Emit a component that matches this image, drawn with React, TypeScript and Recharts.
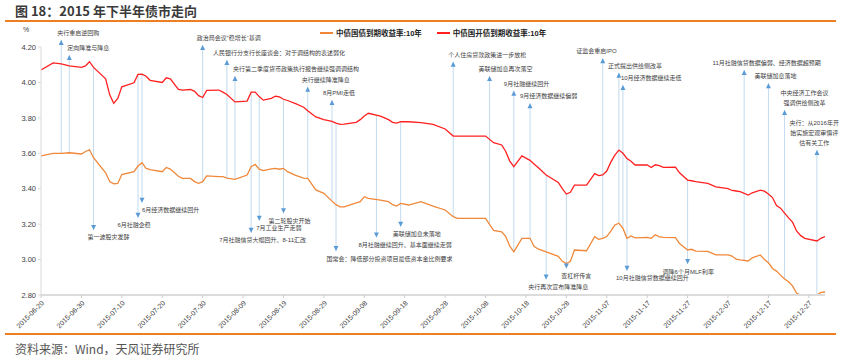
import { Line, LineChart, ReferenceDot, ReferenceLine, XAxis, YAxis } from 'recharts';

const dates = [
  '2015-06-20', '2015-06-23', '2015-06-25', '2015-06-27', '2015-06-30', '2015-07-01', '2015-07-02', '2015-07-03',
  '2015-07-06', '2015-07-07', '2015-07-08', '2015-07-09', '2015-07-10', '2015-07-13', '2015-07-14', '2015-07-15',
  '2015-07-16', '2015-07-17', '2015-07-20', '2015-07-21', '2015-07-22', '2015-07-24', '2015-07-25', '2015-07-27',
  '2015-07-28', '2015-07-29', '2015-07-30', '2015-07-31', '2015-08-03', '2015-08-04', '2015-08-05', '2015-08-07',
  '2015-08-10', '2015-08-11', '2015-08-12', '2015-08-13', '2015-08-14', '2015-08-16', '2015-08-17', '2015-08-18',
  '2015-08-19', '2015-08-20', '2015-08-22', '2015-08-24', '2015-08-25', '2015-08-27', '2015-08-29', '2015-08-31',
  '2015-09-01', '2015-09-02', '2015-09-03', '2015-09-06', '2015-09-07', '2015-09-08', '2015-09-09', '2015-09-12',
  '2015-09-14', '2015-09-15', '2015-09-16', '2015-09-17', '2015-09-19', '2015-09-22', '2015-09-25', '2015-09-28',
  '2015-09-30', '2015-10-01', '2015-10-08', '2015-10-10', '2015-10-12', '2015-10-13', '2015-10-14', '2015-10-15',
  '2015-10-17', '2015-10-19', '2015-10-20', '2015-10-21', '2015-10-23', '2015-10-26', '2015-10-27', '2015-10-28',
  '2015-10-29', '2015-10-30', '2015-11-02', '2015-11-04', '2015-11-05', '2015-11-06', '2015-11-07', '2015-11-08',
  '2015-11-09', '2015-11-10', '2015-11-11', '2015-11-12', '2015-11-13', '2015-11-14', '2015-11-17', '2015-11-18',
  '2015-11-19', '2015-11-20', '2015-11-21', '2015-11-24', '2015-11-25', '2015-11-27', '2015-11-28', '2015-11-29',
  '2015-12-02', '2015-12-04', '2015-12-07', '2015-12-08', '2015-12-09', '2015-12-10', '2015-12-12', '2015-12-13',
  '2015-12-15', '2015-12-16', '2015-12-17', '2015-12-18', '2015-12-19', '2015-12-20', '2015-12-21', '2015-12-22',
  '2015-12-23', '2015-12-24', '2015-12-25', '2015-12-26', '2015-12-29', '2015-12-30', '2015-12-31',
];

// 中债国开债到期收益率:10年
const cdb10y = [
  4.07, 4.11, 4.105, 4.093, 4.085, 4.093, 4.117, 4.085,
  4.02, 3.93, 3.882, 3.91, 3.975, 3.998, 4.045, 4.047,
  4.035, 4.012, 4.0, 4.026, 4.02, 3.96, 3.957, 3.96,
  3.95, 3.925, 3.915, 3.955, 3.957, 3.945, 3.932, 3.89,
  3.895, 3.945, 3.945, 3.92, 3.9, 3.91, 3.922, 3.918,
  3.905, 3.898, 3.88, 3.86, 3.84, 3.805, 3.79, 3.78,
  3.77, 3.763, 3.765, 3.775, 3.79, 3.81, 3.826, 3.81,
  3.79, 3.775, 3.77, 3.778, 3.778, 3.773, 3.763, 3.737,
  3.697, 3.697, 3.697, 3.66, 3.647, 3.61, 3.556, 3.524,
  3.585, 3.56, 3.54, 3.52, 3.477, 3.435, 3.4, 3.37,
  3.38, 3.42, 3.42, 3.485, 3.474, 3.478, 3.5, 3.55,
  3.59, 3.618, 3.6, 3.57, 3.555, 3.534, 3.534, 3.52,
  3.535, 3.53, 3.52, 3.522, 3.49, 3.449, 3.445, 3.44,
  3.43, 3.41, 3.4, 3.39, 3.387, 3.383, 3.364, 3.377,
  3.392, 3.386, 3.37, 3.35, 3.305, 3.29, 3.262, 3.235,
  3.21, 3.16, 3.135, 3.12, 3.105, 3.12, 3.13,
];

// 中债国债到期收益率:10年
const cgb10y = [
  3.585, 3.6, 3.6, 3.603, 3.596, 3.61, 3.62, 3.575,
  3.49, 3.44, 3.427, 3.43, 3.48, 3.496, 3.528, 3.547,
  3.515, 3.508, 3.496, 3.52, 3.511, 3.47, 3.458, 3.458,
  3.44, 3.43, 3.44, 3.472, 3.468, 3.468, 3.46, 3.453,
  3.477, 3.524, 3.538, 3.51, 3.502, 3.512, 3.515, 3.51,
  3.515, 3.496, 3.475, 3.46, 3.458, 3.393, 3.374, 3.33,
  3.31, 3.298, 3.298, 3.32, 3.327, 3.355, 3.346, 3.336,
  3.327, 3.31, 3.302, 3.317, 3.308, 3.327, 3.302, 3.28,
  3.242, 3.233, 3.233, 3.165, 3.157, 3.13, 3.076, 3.044,
  3.12, 3.12, 3.075, 3.06, 3.044, 3.018, 2.99, 2.978,
  2.99, 3.054, 3.05, 3.129, 3.114, 3.12, 3.13, 3.16,
  3.195, 3.205, 3.176, 3.12, 3.133, 3.123, 3.125, 3.12,
  3.14, 3.128, 3.125, 3.124, 3.09, 3.054, 3.058, 3.048,
  3.046, 3.026, 3.026, 3.02, 3.002, 2.998, 2.992, 3.01,
  3.026, 3.0, 2.982, 2.95, 2.935, 2.912, 2.89, 2.875,
  2.85, 2.81, 2.8, 2.8, 2.8, 2.815, 2.817,
];

const xTickDates = [
  '2015-06-20', '2015-06-30', '2015-07-10', '2015-07-20', '2015-07-30', '2015-08-09', '2015-08-19',
  '2015-08-29', '2015-09-08', '2015-09-18', '2015-09-28', '2015-10-08', '2015-10-18', '2015-10-28',
  '2015-11-07', '2015-11-17', '2015-11-27', '2015-12-07', '2015-12-17', '2015-12-27',
];
const yTicks = [2.8, 3.0, 3.2, 3.4, 3.6, 3.8, 4.0, 4.2];

// events: up = label above (line rises from the 国债 curve), down = label below (line drops from the 国开债 curve)
const events = [
  { date: '2015-06-25', text: '央行重启逆回购', dir: 'up' },
  { date: '2015-06-27', text: '定向降准与降息', dir: 'up' },
  { date: '2015-07-03', text: '第一波股灾发酵', dir: 'down' },
  { date: '2015-07-14', text: '6月社融企稳', dir: 'down' },
  { date: '2015-07-15', text: '6月经济数据继续回升', dir: 'down' },
  { date: '2015-07-30', text: '政治局会议”稳增长“基调', dir: 'up' },
  { date: '2015-08-05', text: '人民银行分支行长座谈会：对于调结构的表述弱化', dir: 'up' },
  { date: '2015-08-07', text: '央行第二季度货币政策执行报告继续强调调结构', dir: 'up' },
  { date: '2015-08-11', text: '7月社融信贷大幅回升、8-11汇改', dir: 'down' },
  { date: '2015-08-13', text: '7月工业生产走弱', dir: 'down' },
  { date: '2015-08-19', text: '第二轮股灾开始', dir: 'down' },
  { date: '2015-08-25', text: '央行继续降准降息', dir: 'up' },
  { date: '2015-08-31', text: '8月PMI走低', dir: 'up' },
  { date: '2015-09-01', text: '国常会：降低部分投资项目最低资本金比例要求', dir: 'down' },
  { date: '2015-09-11', text: '8月社融继续回升、基本面继续走弱', dir: 'down' },
  { date: '2015-09-17', text: '美联储加息未落地', dir: 'down' },
  { date: '2015-09-30', text: '个人住房贷款政策进一步放松', dir: 'up' },
  { date: '2015-10-09', text: '美联储加息再次落空', dir: 'up' },
  { date: '2015-10-15', text: '9月社融继续回升', dir: 'up' },
  { date: '2015-10-19', text: '9月经济数据继续偏弱', dir: 'up' },
  { date: '2015-10-23', text: '央行再次宣布降准降息', dir: 'down' },
  { date: '2015-10-28', text: '查杠杆传言', dir: 'down' },
  { date: '2015-11-06', text: '证监会重启IPO', dir: 'up' },
  { date: '2015-11-10', text: '正式提出供给侧改革', dir: 'up' },
  { date: '2015-11-11', text: '10月经济数据继续走低', dir: 'up' },
  { date: '2015-11-12', text: '10月社融信贷数据继续回升', dir: 'down' },
  { date: '2015-11-27', text: '调降6个月MLF利率', dir: 'down' },
  { date: '2015-12-11', text: '11月社融信贷数据偏弱、经济数据超预期', dir: 'up' },
  { date: '2015-12-17', text: '美联储加息落地', dir: 'up' },
  { date: '2015-12-21', text: '中央经济工作会议\n强调供给侧改革', dir: 'up' },
  { date: '2015-12-29', text: '央行：从2016年开\n始实施宏观审慎评\n估有关工作', dir: 'up' },
];

// where each event's arrow tip sits (yield units) and how far its text is shifted
const eventTips = [
  4.24, 4.155, 3.167, 3.236, 3.321, 4.211, 4.127, 4.036, 3.151, 3.219, 3.261, 3.976, 3.901, 3.048, 3.125, 3.185,
  4.117, 4.036, 3.953, 3.882, 2.888, 2.95, 4.136, 4.055, 3.985, 2.937, 2.975, 4.07, 3.995, 3.844, 3.618,
];
const eventTextDx = [
  -4, -2, -6, -20.5, 0, -6, -14, -2, -32, -3, -15, -6, -9, -9.5, -18, -8,
  -5, -11, -10, -10, -18, -5, -26.5, -11, -2, -11, -25, -31.6, -14, 20, -2.7,
];

const DAY0 = Date.UTC(2015, 5, 20);
const toDay = (d: string) => {
  const [y, m, dd] = d.split('-').map(Number);
  return Math.round((Date.UTC(y, m - 1, dd) - DAY0) / 86400000);
};
const fromDay = (n: number) => new Date(DAY0 + n * 86400000).toISOString().slice(0, 10);

const rows = dates.map((d, i) => ({ day: toDay(d), cgb: cgb10y[i], cdb: cdb10y[i] }));
const xTicks = xTickDates.map(toDay);

function valueAt(key: 'cgb' | 'cdb', day: number) {
  for (let i = 0; i < rows.length - 1; i++) {
    const a = rows[i];
    const b = rows[i + 1];
    if (day >= a.day && day <= b.day) {
      return a[key] + ((b[key] - a[key]) * (day - a.day)) / (b.day - a.day);
    }
  }
  return rows[rows.length - 1][key];
}

const FONT = '"Liberation Sans", "Noto Sans CJK SC", sans-serif';
const ORANGE = '#F0883A';
const RED = '#FF2020';
const TEXT = '#404040';

function eventShape(index: number) {
  const ev = events[index];
  const dx = eventTextDx[index];
  const lines = ev.text.split('\n');
  const multi = lines.length > 1;
  return (p: any) => {
    const { cx, cy } = p;
    const up = ev.dir === 'up';
    const tri = up
      ? `M${cx},${cy} L${cx - 2.5},${cy + 5} L${cx + 2.5},${cy + 5} Z`
      : `M${cx},${cy} L${cx - 2.5},${cy - 5} L${cx + 2.5},${cy - 5} Z`;
    return (
      <g>
        <path d={tri} fill="#5B9BD5" />
        {lines.map((ln, k) => {
          const y = up ? cy - 7 - (lines.length - 1 - k) * 10 : cy + 7.5 + k * 10;
          return (
            <text
              key={k}
              x={cx + dx}
              y={y}
              fontSize={6}
              fill={TEXT}
              fontFamily={FONT}
              textAnchor={multi ? 'middle' : 'start'}
              dominantBaseline="central"
            >
              {ln}
            </text>
          );
        })}
      </g>
    );
  };
}

export default function App() {
  return (
    <div
      style={{
        position: 'absolute',
        left: 0,
        top: 0,
        width: 845,
        height: 357,
        background: '#fff',
        overflow: 'hidden',
        fontFamily: FONT,
      }}
    >
      <div style={{ position: 'absolute', left: 15, top: 1, fontSize: 13, fontWeight: 700, color: '#3a3a3a', fontFamily: '"Noto Sans CJK SC", sans-serif', whiteSpace: 'nowrap' }}>
        图 18：2015 年下半年债市走向
      </div>
      <div style={{ position: 'absolute', left: 5, top: 20, width: 831, height: 1.5, background: '#EE7E22' }} />
      <div style={{ position: 'absolute', left: 23, top: 26, fontSize: 7, color: TEXT }}>%</div>

      <div style={{ position: 'absolute', left: 320, top: 27, display: 'flex', alignItems: 'center', fontSize: 7.5, fontWeight: 700, color: '#222', whiteSpace: 'nowrap' }}>
        <span style={{ display: 'inline-block', width: 13, height: 2, background: ORANGE, marginRight: 3 }} />
        <span>中债国债到期收益率:10年</span>
        <span style={{ display: 'inline-block', width: 13, height: 2, background: RED, marginLeft: 15, marginRight: 3 }} />
        <span>中债国开债到期收益率:10年</span>
      </div>

      <div style={{ position: 'absolute', left: 0, top: 0 }}>
        <LineChart width={845} height={357} data={rows} margin={{ top: 47, right: 20, bottom: 22, left: 0 }}>
          <XAxis
            type="number"
            dataKey="day"
            domain={[0, 194]}
            ticks={xTicks}
            interval={0}
            tickFormatter={fromDay}
            angle={-45}
            textAnchor="end"
            height={40}
            tickSize={3}
            tick={{ fontSize: 7, fill: TEXT, fontFamily: FONT }}
            axisLine={{ stroke: '#DCDCDC', strokeWidth: 2 }}
            tickLine={{ stroke: '#CCCCCC' }}
            allowDataOverflow
          />
          <YAxis
            domain={[2.8, 4.2]}
            ticks={yTicks}
            interval={0}
            tickFormatter={(v: number) => v.toFixed(2)}
            width={41}
            tickSize={3}
            tick={{ fontSize: 7.5, fill: TEXT, fontFamily: FONT }}
            axisLine={{ stroke: '#D9D9D9' }}
            tickLine={{ stroke: '#D9D9D9' }}
            allowDataOverflow
          />
          {events.map((ev, i) => {
            const day = toDay(ev.date);
            const from = ev.dir === 'up' ? valueAt('cgb', day) : valueAt('cdb', day);
            return (
              <ReferenceLine
                key={`l${i}`}
                segment={[{ x: day, y: from }, { x: day, y: eventTips[i] }]}
                stroke="#C3DAF0"
                strokeWidth={1}
                ifOverflow="visible"
              />
            );
          })}
          <Line type="linear" dataKey="cgb" stroke={ORANGE} strokeWidth={1.3} dot={false} isAnimationActive={false} />
          <Line type="linear" dataKey="cdb" stroke={RED} strokeWidth={1.3} dot={false} isAnimationActive={false} />
          {events.map((ev, i) => (
            <ReferenceDot
              key={`d${i}`}
              x={toDay(ev.date)}
              y={eventTips[i]}
              r={3}
              ifOverflow="visible"
              shape={eventShape(i)}
            />
          ))}
        </LineChart>
      </div>

      <div style={{ position: 'absolute', left: 5, top: 333, width: 831, height: 1.5, background: '#EE7E22' }} />
      <div style={{ position: 'absolute', left: 15, top: 340, fontSize: 12, color: '#555', fontFamily: '"Noto Sans CJK SC", sans-serif', whiteSpace: 'nowrap' }}>
        资料来源：Wind，天风证券研究所
      </div>
    </div>
  );
}
